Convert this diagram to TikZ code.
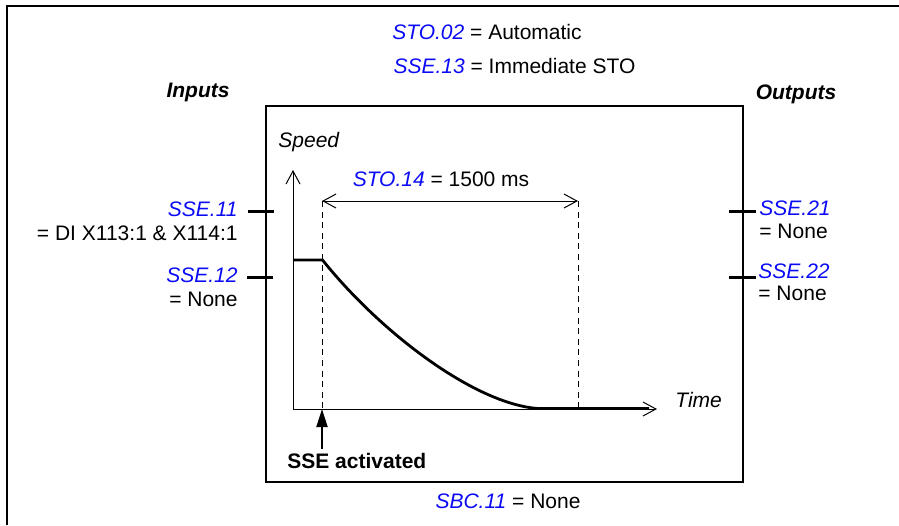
\documentclass[tikz,border=0pt]{standalone}
\usepackage{fontspec}
\setmainfont{Liberation Sans}
\usetikzlibrary{arrows.meta}
\definecolor{pblue}{RGB}{10,10,245}
\newcommand\pvname[1]{{\color{pblue}\itshape #1}}
\begin{document}
\begin{tikzpicture}[x=0.5pt,y=-0.5pt,
  txt/.style={font=\fontsize{10.5}{12}\selectfont, inner sep=0pt},
  head/.style={txt, font=\fontsize{10.5}{12}\selectfont\bfseries\itshape},
  frame/.style={line width=1pt},
  boxline/.style={line width=0.8pt},
  thinline/.style={line width=0.5pt},
  barb/.style={thinline, -{Straight Barb[length=6.5pt,width=7pt]}},
  dimline/.style={thinline, {Straight Barb[length=6.5pt,width=7pt]}-{Straight Barb[length=6.5pt,width=7pt]}},
  dashline/.style={thinline, dash pattern=on 3pt off 2.3pt},
  speedline/.style={line width=1.4pt},
  tickline/.style={line width=1.5pt},
  actarrow/.style={line width=1pt, -{Triangle[length=9pt,width=5.5pt]}}
]
\useasboundingbox (0,0) rectangle (899,525);
% outer frame
\draw[frame] (7,525) -- (7,6) -- (899,6);
% inner box
\node[draw, boxline, minimum width=238.5pt, minimum height=188pt, inner sep=0pt, anchor=north west] (box) at (265,105) {};
% top texts
\node[txt, anchor=base] (sto02) at (487,39) {\pvname{STO.02} = Automatic};
\node[txt, anchor=base] (sse13) at (514.5,73) {\pvname{SSE.13} = Immediate STO};
\node[head, anchor=base] (inputs) at (198,97) {Inputs};
\node[head, anchor=base] (outputs) at (796,99.5) {Outputs};
% axes
\coordinate (O) at (293,409);
\coordinate (ytop) at (293,170);
\coordinate (xend) at (657,409);
\draw[barb] (O) -- (ytop);
\draw[barb] (O) -- (xend);
\node[txt, anchor=base west, font=\fontsize{10.5}{12}\selectfont\itshape] (speed) at (278,147) {Speed};
\node[txt, anchor=base west, font=\fontsize{10.5}{12}\selectfont\itshape] (time) at (675,407) {Time};
% dashed markers
\coordinate (d1t) at (322,201);
\coordinate (d1b) at (322,409);
\coordinate (d2t) at (578,201);
\coordinate (d2b) at (578,409);
\draw[dashline] (d1t) -- (d1b);
\draw[dashline] (d2t) -- (d2b);
\draw[dimline] (d1t) -- (d2t);
\node[txt, anchor=base] (sto14) at (441,186.5) {\pvname{STO.14} = 1500 ms};
% speed profile
\coordinate (s0) at (293,260);
\coordinate (s1) at (322.5,260);
\coordinate (s2) at (538,408.5);
\coordinate (s3) at (649,408.5);
\draw[speedline] (s0) -- (s1) .. controls (381,333) and (475,404) .. (s2) -- (s3);
% SSE activated
\node[txt, anchor=base west, font=\fontsize{10.5}{12}\selectfont\bfseries] (act) at (287,468) {SSE activated};
\coordinate (actfoot) at (322,449);
\draw[actarrow] (actfoot) -- (d1b);
% inputs
\coordinate (i1a) at (248,211);
\coordinate (i1b) at (274,211);
\coordinate (i2a) at (247,277);
\coordinate (i2b) at (273,277);
\draw[tickline] (i1a) -- (i1b);
\draw[tickline] (i2a) -- (i2b);
\node[txt, anchor=base east] (sse11) at (238,216) {\pvname{SSE.11}};
\node[txt, anchor=base east] (sse11v) at (238,240) {= DI X113:1 \& X114:1};
\node[txt, anchor=base east] (sse12) at (238,282) {\pvname{SSE.12}};
\node[txt, anchor=base east] (sse12v) at (238,306) {= None};
% outputs
\coordinate (o1a) at (729,211);
\coordinate (o1b) at (756,211);
\coordinate (o2a) at (729,277);
\coordinate (o2b) at (756,277);
\draw[tickline] (o1a) -- (o1b);
\draw[tickline] (o2a) -- (o2b);
\node[txt, anchor=base west] (sse21) at (759,215) {\pvname{SSE.21}};
\node[txt, anchor=base west] (sse21v) at (759,238) {= None};
\node[txt, anchor=base west] (sse22) at (758,278) {\pvname{SSE.22}};
\node[txt, anchor=base west] (sse22v) at (758,300) {= None};
% bottom
\node[txt, anchor=base] (sbc11) at (508,508) {\pvname{SBC.11} = None};
\end{tikzpicture}
\end{document}
